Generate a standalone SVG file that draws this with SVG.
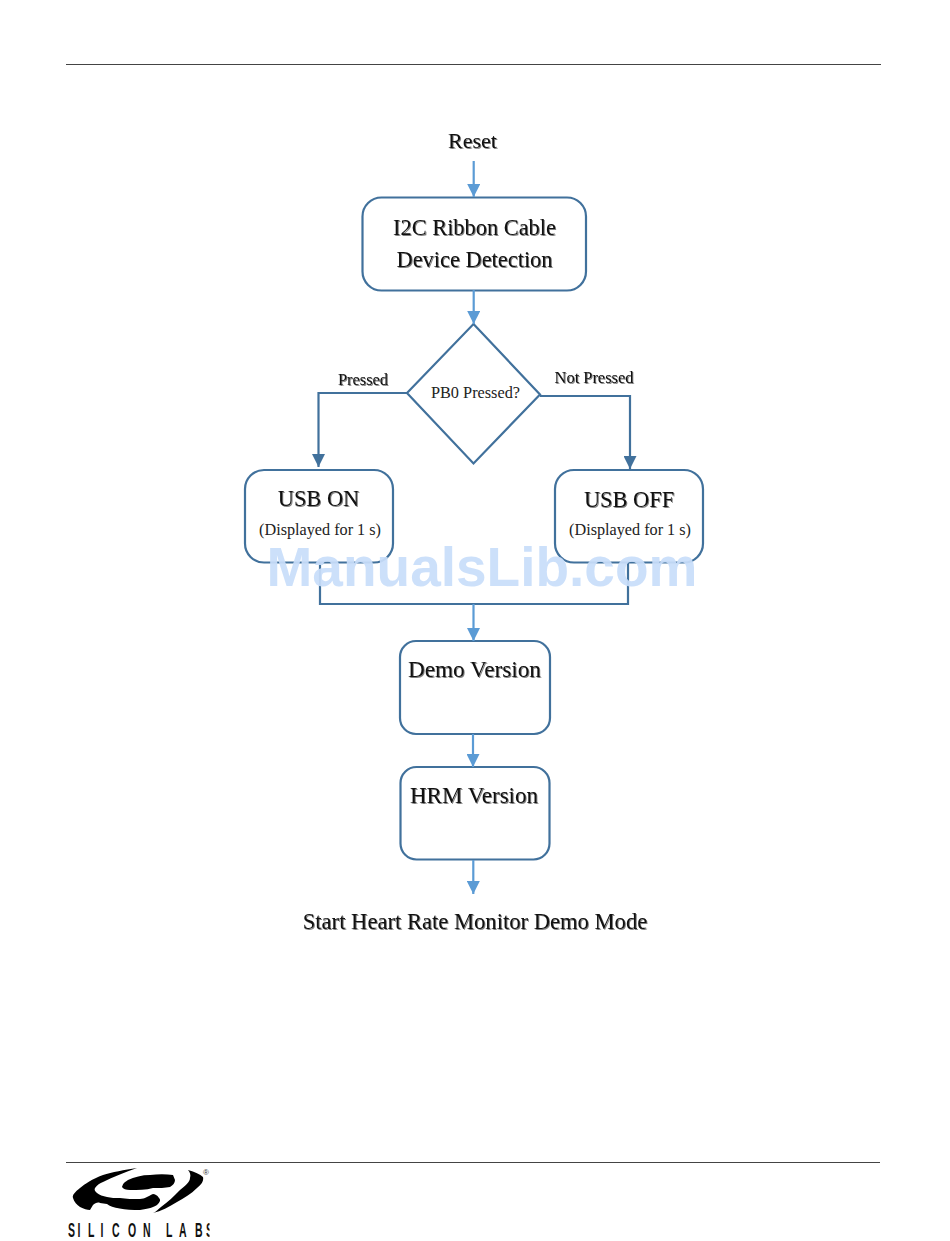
<svg xmlns="http://www.w3.org/2000/svg" width="950" height="1241" viewBox="0 0 950 1241">
<style>
text{font-family:"Liberation Serif","Times New Roman",serif;fill:#111;text-anchor:middle}
.big{font-size:22.4px;filter:drop-shadow(1.5px 1.5px .7px #808080)}
.lbl{font-size:16.4px;filter:drop-shadow(1.2px 1.2px .6px #808080)}
.sub{font-size:16.2px;fill:#222}
.box{fill:#fff;stroke:#41719c;stroke-width:2.2}
.lb{fill:none;stroke:#5b9bd5;stroke-width:2.2}
.db{fill:none;stroke:#41719c;stroke-width:2.2}
.rule{stroke:#444;stroke-width:1}
</style>
<defs>
<marker id="al" markerUnits="userSpaceOnUse" markerWidth="13" markerHeight="13" refX="13" refY="6.5" orient="auto"><path d="M0 0L13 6.5L0 13Z" fill="#5b9bd5"/></marker>
<marker id="ad" markerUnits="userSpaceOnUse" markerWidth="13" markerHeight="13" refX="13" refY="6.5" orient="auto"><path d="M0 0L13 6.5L0 13Z" fill="#41719c"/></marker>
<clipPath id="logoclip"><rect x="60" y="1215" width="149.500" height="26"/></clipPath>
</defs>
<rect width="950" height="1241" fill="#fff"/>
<line class="rule" x1="66" y1="64.500" x2="881" y2="64.500"/>
<line class="rule" x1="66" y1="1162.500" x2="880" y2="1162.500"/>
<g id="reset"><text class="big" x="472.500" y="148" style="font-size:22px">Reset</text></g>
<g id="detect"><rect class="box" x="362.500" y="197.500" width="223.500" height="93" rx="19"/><text class="big" x="474.500" y="234.500">I2C Ribbon Cable</text><text class="big" x="474.500" y="266.500">Device Detection</text></g>
<g id="pb0"><path class="box" d="M473.500 324L540 394.500L473.500 463.500L407 393Z"/><text x="475.500" y="398" style="font-size:16.300px;fill:#222">PB0 Pressed?</text></g>
<g id="usb-on"><rect class="box" x="245" y="470" width="148" height="92.500" rx="19"/><text class="big" x="318.500" y="506">USB ON</text><text class="sub" x="320" y="535">(Displayed for 1 s)</text></g>
<g id="usb-off"><rect class="box" x="555" y="470" width="148" height="92.500" rx="19"/><text class="big" x="629" y="507">USB OFF</text><text class="sub" x="630" y="535">(Displayed for 1 s)</text></g>
<g id="demo"><rect class="box" x="400" y="641" width="150" height="93" rx="16"/><text class="big" x="474.500" y="677" style="font-size:23.200px">Demo Version</text></g>
<g id="hrm"><rect class="box" x="400.500" y="767" width="149" height="92.500" rx="16"/><text class="big" x="474" y="803" style="font-size:23px">HRM Version</text></g>
<g id="start"><text class="big" x="475" y="929" style="font-size:22.600px">Start Heart Rate Monitor Demo Mode</text></g>
<g id="connectors">
<path class="lb" d="M473.700 161V197" marker-end="url(#al)"/>
<path class="lb" d="M473.700 290V324" marker-end="url(#al)"/>
<path class="db" d="M407 393H318.500V467" marker-end="url(#ad)"/>
<path class="db" d="M540 396H630V469" marker-end="url(#ad)"/>
<path class="db" d="M320 562V604H628V562"/>
<path class="lb" d="M473.500 604V641" marker-end="url(#al)"/>
<path class="lb" d="M473 734V767" marker-end="url(#al)"/>
<path class="lb" d="M473.300 860V894" marker-end="url(#al)"/>
</g>
<g id="labels"><text class="lbl" x="363" y="385">Pressed</text><text class="lbl" x="594" y="383">Not Pressed</text></g>
<g id="watermark"><text x="482" y="586" style="font-family:'Liberation Sans',Arial,sans-serif;font-weight:700;font-size:55px;fill:#c9defa;opacity:.93">ManualsLib.com</text></g>
<g id="logo">
<path d="M137 1168C124 1170 112 1172 103 1175C92 1179 85 1184 80 1188C75 1192 72 1195 73 1198C74 1202 77 1205 80 1207C84 1209 87 1210 90 1210L93 1205C95 1203 98 1202 100 1203L107 1204C112 1208 125 1210 140 1210C148 1209 154 1207 157 1205C160 1202 161 1200 159 1198C157 1195 155 1194 153 1194C148 1196 145 1199 140 1199C133 1199 126 1199 120 1198C115 1198 111 1198 107 1197C103 1196 99 1195 97 1193C95 1191 94 1190 95 1188C97 1185 100 1183 103 1182C113 1177 125 1172 137 1168Z" fill="#000"/>
<path d="M122 1187C123 1183 125 1182 128 1180C134 1177 142 1175 150 1175C158 1174 166 1174 173 1175L175 1180C175 1183 173 1185 170 1187C165 1188 159 1188 153 1188C146 1190 138 1190 130 1190C126 1190 123 1189 122 1187Z" fill="#000"/>
<path d="M188 1170C195 1172 200 1174 203 1177C204 1181 201 1185 197 1188C191 1194 184 1198 177 1202C169 1207 161 1211 153 1213C156 1212 158 1209 161 1207C168 1202 174 1196 180 1190C185 1186 190 1182 190 1178C191 1175 190 1172 188 1170Z" fill="#000"/>
<text x="206" y="1175" style="font-family:'Liberation Sans',Arial,sans-serif;font-size:8px;fill:#333">®</text>
<g clip-path="url(#logoclip)"><text transform="scale(.5 1)" x="136 155 176 201 224 256 286 300 332 358 390 412" y="1237" style="font-family:'Liberation Sans',Arial,sans-serif;font-weight:700;font-size:21px;fill:#111;text-anchor:start">SILICON LABS</text></g>
</g>
</svg>
